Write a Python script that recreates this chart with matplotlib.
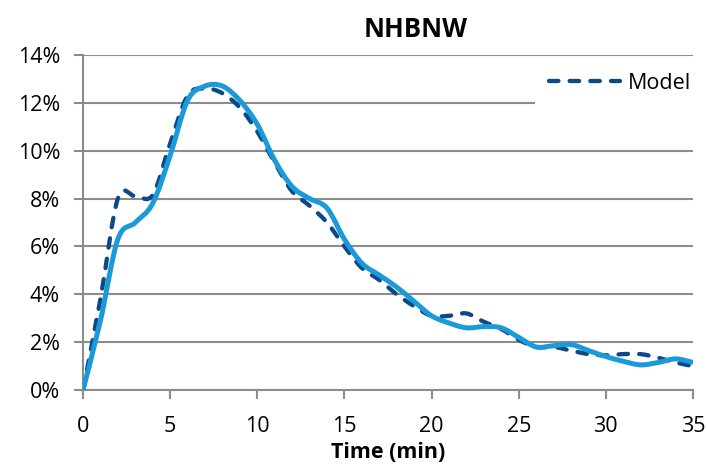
import numpy as np
import matplotlib.pyplot as plt
from matplotlib.path import Path
from matplotlib.patches import PathPatch
from matplotlib.lines import Line2D
from matplotlib.ticker import PercentFormatter

plt.rcParams['font.family'] = ['Open Sans', 'DejaVu Sans']

# time in minutes
time_min = list(range(0, 36))

# measured curve (solid light blue), percent
observed = [0.0, 2.9, 6.3, 7.0, 7.8, 9.8, 12.1, 12.7, 12.7, 12.1,
            11.1, 9.6, 8.5, 8.0, 7.6, 6.3, 5.3, 4.8, 4.3, 3.7,
            3.1, 2.8, 2.6, 2.65, 2.6, 2.2, 1.8, 1.85, 1.9, 1.65,
            1.4, 1.2, 1.05, 1.15, 1.3, 1.15]

# model curve (dashed dark blue), percent
model = [0.0, 3.8, 8.0, 8.1, 8.15, 10.3, 12.3, 12.6, 12.4, 11.8,
         10.8, 9.5, 8.3, 7.7, 7.0, 6.0, 5.1, 4.6, 4.0, 3.5,
         3.1, 3.1, 3.2, 2.85, 2.55, 2.1, 1.8, 1.8, 1.65, 1.5,
         1.45, 1.5, 1.5, 1.35, 1.15, 1.0]


def smooth_path(x, y):
    # excel-like smoothed line: bezier segments through the points
    p = np.column_stack([x, y]).astype(float)
    verts = [p[0]]
    codes = [Path.MOVETO]
    n = len(p)
    for i in range(n - 1):
        p0 = p[max(i - 1, 0)]
        p1 = p[i]
        p2 = p[i + 1]
        p3 = p[min(i + 2, n - 1)]
        c1 = p1 + (p2 - p0) / 6.0
        c2 = p2 - (p3 - p1) / 6.0
        verts += [c1, c2, p2]
        codes += [Path.CURVE4] * 3
    return Path(verts, codes)


dark = '#0c4a86'
light = '#1a9ad8'
dash = (0, (2.2, 2.6))

fig = plt.figure(figsize=(7.07, 4.72), dpi=100)
ax = fig.add_axes([0.1174, 0.1737, 0.8628, 0.7098])

ax.add_patch(PathPatch(smooth_path(time_min, model), fill=False,
                       edgecolor=dark, lw=3.1, ls=dash,
                       capstyle='round', zorder=3))
ax.add_patch(PathPatch(smooth_path(time_min, observed), fill=False,
                       edgecolor=light, lw=3.6, zorder=4))

ax.set_xlim(0, 35)
ax.set_ylim(0, 14)
ax.set_xticks(range(0, 36, 5))
ax.set_yticks(range(0, 15, 2))
ax.yaxis.set_major_formatter(PercentFormatter(decimals=0))

grid_c = '#8c8c8c'
ax.grid(axis='y', color=grid_c, lw=1.5)
ax.set_axisbelow(True)
for s in ['top', 'right']:
    ax.spines[s].set_visible(False)
for s in ['left', 'bottom']:
    ax.spines[s].set_color(grid_c)
    ax.spines[s].set_linewidth(1.5)
ax.tick_params(axis='both', colors=grid_c, length=6.5, width=1.5,
               labelcolor='black', labelsize=15.5)
ax.tick_params(axis='x', pad=12)
ax.tick_params(axis='y', pad=10)

ax.set_title('NHBNW', fontsize=18.5, fontweight='bold', pad=13, x=0.546)
ax.set_xlabel('Time (min)', fontsize=15.5, fontweight='bold', labelpad=4)

handle = Line2D([], [], color=dark, lw=3.1, ls=dash,
                dash_capstyle='round')
leg = ax.legend([handle], ['Model'], loc='center right',
                bbox_to_anchor=(1.02, 0.915),
                frameon=True, facecolor='white', edgecolor='none',
                framealpha=1, fontsize=15.5, handlelength=3.3,
                handletextpad=0.35, borderpad=0.65, borderaxespad=0.0)

fig.savefig('out.png', dpi=100)
